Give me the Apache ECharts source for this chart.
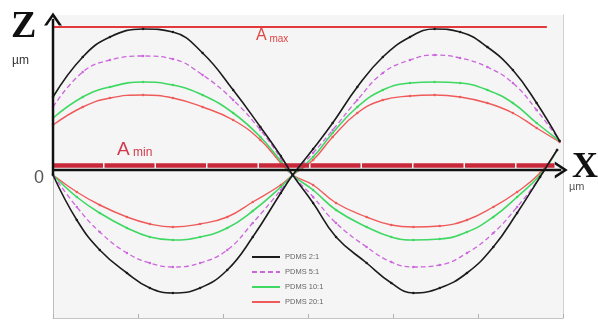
<!DOCTYPE html>
<html>
<head>
<meta charset="utf-8">
<script src="https://cdn.jsdelivr.net/npm/echarts@6/dist/echarts.min.js"></script>
<style>
html,body{margin:0;padding:0;background:#ffffff;}
#chart{width:598px;height:322px;}
</style>
</head>
<body>
<div id="chart"></div>
<script>
// ---- data ----
const seriesNames = ['PDMS 2:1', 'PDMS 5:1', 'PDMS 10:1', 'PDMS 20:1'];
const xTicks = [0, 1, 2, 3, 4, 5, 6];
const crossX = 2.82;   // where all curves cross the zero line

// humps above the axis
const upperX = [0, 0.35, 0.67, 1.06, 1.41, 1.76, 2.12, 2.44, 2.68, 2.82, 3.06, 3.29, 3.58, 3.88, 4.2, 4.49, 4.79, 5.11, 5.41, 5.69, 5.96];
const upperBlack  = [0.78, 1.18, 1.38, 1.46, 1.43, 1.22, 0.85, 0.48, 0.19, 0, 0.26, 0.52, 0.88, 1.18, 1.38, 1.46, 1.43, 1.28, 1.05, 0.72, 0.34];
const upperPurple = [0.68, 1.03, 1.15, 1.19, 1.16, 1.00, 0.75, 0.45, 0.17, 0, 0.22, 0.45, 0.75, 1.02, 1.15, 1.20, 1.17, 1.08, 0.92, 0.65, 0.34];
const upperGreen  = [0.57, 0.78, 0.88, 0.93, 0.90, 0.80, 0.62, 0.38, 0.14, 0, 0.18, 0.42, 0.68, 0.85, 0.92, 0.93, 0.92, 0.85, 0.72, 0.52, 0.34];
const upperRed    = [0.50, 0.68, 0.77, 0.80, 0.77, 0.68, 0.55, 0.35, 0.12, 0, 0.15, 0.38, 0.62, 0.75, 0.79, 0.80, 0.78, 0.72, 0.62, 0.47, 0.33];

// troughs below the axis
const lowerX = [0, 0.28, 0.55, 0.87, 1.14, 1.41, 1.73, 2.05, 2.35, 2.68, 2.82, 3.06, 3.33, 3.69, 3.98, 4.24, 4.55, 4.87, 5.18, 5.46, 5.73, 5.93];
const lowerBlack  = [0, -0.45, -0.75, -0.98, -1.13, -1.18, -1.13, -0.95, -0.62, -0.18, 0, -0.28, -0.62, -0.88, -1.08, -1.18, -1.13, -0.98, -0.72, -0.38, -0.02, 0.25];
const lowerPurple = [0, -0.32, -0.57, -0.78, -0.88, -0.92, -0.88, -0.75, -0.48, -0.15, 0, -0.22, -0.48, -0.72, -0.87, -0.92, -0.90, -0.78, -0.58, -0.32, -0.02, 0.25];
const lowerGreen  = [0, -0.22, -0.38, -0.53, -0.62, -0.65, -0.62, -0.53, -0.36, -0.12, 0, -0.15, -0.35, -0.52, -0.62, -0.65, -0.64, -0.57, -0.42, -0.22, 0, 0.25];
const lowerRed    = [0, -0.17, -0.30, -0.42, -0.49, -0.52, -0.49, -0.42, -0.27, -0.10, 0, -0.10, -0.28, -0.42, -0.50, -0.52, -0.51, -0.45, -0.32, -0.17, 0.02, 0.25];

const aMax = 1.48;      // A max level
const aMaxEnd = 5.81;
const aMin = 0.10;      // A min level
const aMinEnd = 5.9;
const xAxisLevel = 0.05;
const xArrowAt = 5.98;
const zArrowAt = 1.56;
const yMin = -1.43, yMax = 1.6;

// ---- styles ----
const colors = ['#1c1c1c', '#cc66dd', '#3fd862', '#ef5a5a'];
const lineTypes = ['solid', [5, 3], 'solid', 'solid'];
const widths = [1.6, 1.3, 1.6, 1.4];

function pairs(xs, ys) { return xs.map((x, i) => [x, ys[i]]); }
const uppers = [upperBlack, upperPurple, upperGreen, upperRed];
const lowers = [lowerBlack, lowerPurple, lowerGreen, lowerRed];

const series = [];
[0, 1, 2, 3].forEach(i => {
  const up = pairs(upperX, uppers[i]);
  const lo = pairs(lowerX, lowers[i]);
  // wave A: hump on the left, trough on the right; wave B: the opposite
  const waveA = up.filter(p => p[0] <= crossX).concat(lo.filter(p => p[0] > crossX));
  const waveB = lo.filter(p => p[0] <= crossX).concat(up.filter(p => p[0] > crossX));
  const base = {
    type: 'line',
    name: seriesNames[i],
    smooth: 0.45,
    symbol: 'circle',
    symbolSize: 2.5,
    showSymbol: true,
    color: colors[i],
    itemStyle: { color: colors[i] },
    lineStyle: { color: colors[i], width: widths[i], type: lineTypes[i] },
    z: 5 - i
  };
  series.push(Object.assign({}, base, { data: waveA }));
  series.push(Object.assign({}, base, { data: waveB }));
});

const chevron = 'path://M0,12 L7,0 L14,12 L11.6,12 L7,4.2 L2.4,12 Z';

// A max / A min reference lines
series.push({
  type: 'line',
  name: 'levels',
  data: [],
  silent: true,
  markLine: {
    silent: true,
    animation: false,
    label: { show: false },
    emphasis: { disabled: true },
    data: [
      [ { coord: [0, aMax], symbol: 'none', lineStyle: { color: '#e23a3a', width: 2, type: 'solid' } },
        { coord: [aMaxEnd, aMax], symbol: 'none' } ],
      [ { coord: [0, aMin], symbol: 'none', lineStyle: { color: '#c9283a', width: 4.5, type: [50, 1.5] } },
        { coord: [aMinEnd, aMin], symbol: 'none' } ]
    ]
  },
  z: 9
});

// black X and Z axes with open arrow heads
series.push({
  type: 'line', name: 'xaxisline', clip: false, silent: true, z: 10,
  lineStyle: { color: '#111111', width: 2.5 },
  itemStyle: { color: '#111111' },
  showSymbol: true,
  data: [
    { value: [0, xAxisLevel], symbol: 'none' },
    { value: [xArrowAt, xAxisLevel], symbol: chevron, symbolSize: [17, 13], symbolRotate: -90 }
  ]
});
series.push({
  type: 'line', name: 'zaxisline', clip: false, silent: true, z: 10,
  lineStyle: { color: '#111111', width: 2.5 },
  itemStyle: { color: '#111111' },
  showSymbol: true,
  data: [
    { value: [0, 0], symbol: 'none' },
    { value: [0, zArrowAt], symbol: chevron, symbolSize: [18, 13], symbolRotate: 0 }
  ]
});

const chart = echarts.init(document.getElementById('chart'), null, { renderer: 'canvas' });
chart.setOption({
  animation: false,
  backgroundColor: '#ffffff',
  grid: { left: 53, right: 35, top: 15, bottom: 4, show: true, backgroundColor: '#f5f5f5', borderWidth: 0 },
  xAxis: {
    type: 'value', min: xTicks[0], max: xTicks[xTicks.length - 1], interval: 1,
    axisLine: { show: true, onZero: false, lineStyle: { color: '#c4c4c4', width: 1 } },
    axisTick: { show: true, inside: true, length: 4, lineStyle: { color: '#b0b0b0' } },
    axisLabel: { show: false },
    splitLine: { show: false }
  },
  yAxis: [
    { type: 'value', min: yMin, max: yMax, position: 'left',
      axisLine: { show: true, onZero: false, lineStyle: { color: '#bdbdbd', width: 1 } },
      axisTick: { show: false }, axisLabel: { show: false }, splitLine: { show: false } },
    { type: 'value', min: yMin, max: yMax, position: 'right',
      axisLine: { show: true, onZero: false, lineStyle: { color: '#d0d0d0', width: 1 } },
      axisTick: { show: false }, axisLabel: { show: false }, splitLine: { show: false } }
  ],
  legend: {
    data: seriesNames,
    orient: 'vertical',
    left: 246, top: 248,
    itemWidth: 28, itemHeight: 8, itemGap: 7,
    itemStyle: { opacity: 0 },
    textStyle: { fontSize: 7.5, color: '#666', fontFamily: 'Liberation Sans' },
    selectedMode: false
  },
  series: series,
  graphic: [
    { type: 'text', left: 11, top: 8, style: { text: 'Z', font: 'bold 38px "Liberation Serif"', fill: '#111' } },
    { type: 'text', left: 12, top: 55, style: { text: 'µm', font: '12px "Liberation Sans"', fill: '#333' } },
    { type: 'text', left: 34, top: 169, style: { text: '0', font: '18px "Liberation Sans"', fill: '#555' } },
    { type: 'text', left: 572, top: 150, style: { text: 'X', font: 'bold 36px "Liberation Serif"', fill: '#111' } },
    { type: 'text', left: 569, top: 181, style: { text: 'µm', font: '11px "Liberation Sans"', fill: '#555' } },
    { type: 'text', left: 256, top: 28, style: {
        text: '{a|A}{s| max}', fill: '#e04545',
        rich: { a: { fontSize: 16, fontFamily: 'Liberation Sans', fill: '#e04545', verticalAlign: 'bottom' },
                s: { fontSize: 10, fontFamily: 'Liberation Sans', fill: '#e04545', verticalAlign: 'bottom' } } } },
    { type: 'text', left: 117, top: 140, style: {
        text: '{a|A}{s| min}', fill: '#d03a4c',
        rich: { a: { fontSize: 19, fontFamily: 'Liberation Sans', fill: '#d03a4c', verticalAlign: 'bottom' },
                s: { fontSize: 12, fontFamily: 'Liberation Sans', fill: '#d03a4c', verticalAlign: 'bottom' } } } }
  ]
});
</script>
</body>
</html>
